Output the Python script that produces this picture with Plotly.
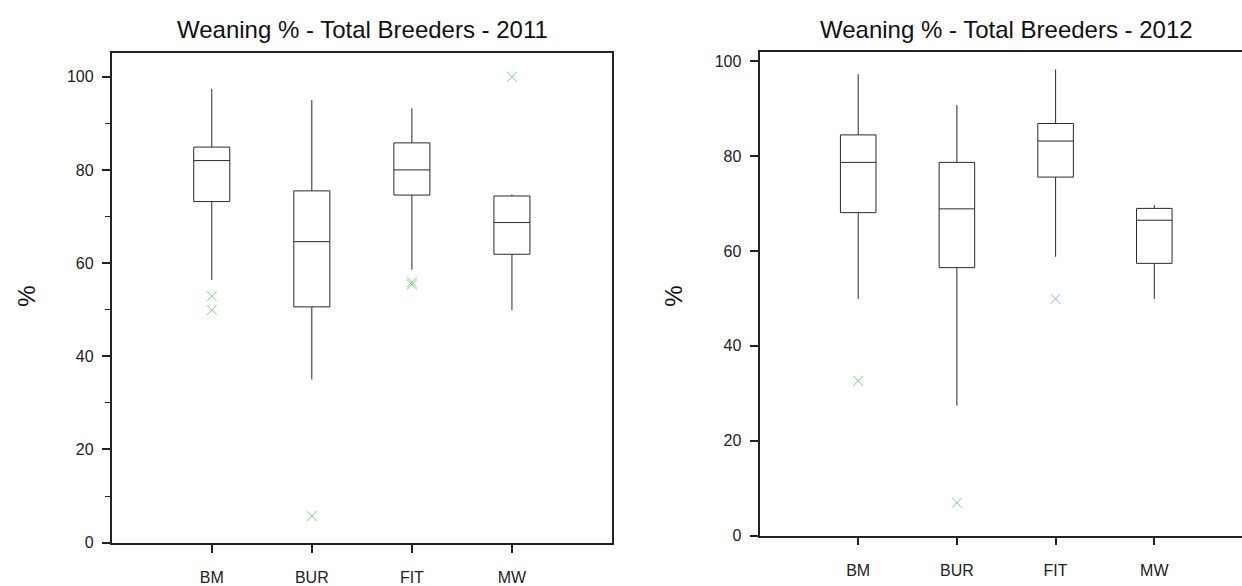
import plotly.graph_objects as go

W, H = 1242, 586

categories = ["BM", "BUR", "FIT", "MW"]
positions = [1, 2, 3, 4]

# 2011 box statistics
q1_2011 = [73.2, 50.6, 74.6, 61.9]
median_2011 = [82.0, 64.6, 80.0, 68.7]
q3_2011 = [84.9, 75.5, 85.8, 74.4]
lower_2011 = [56.4, 35.0, 58.6, 49.9]
upper_2011 = [97.4, 95.0, 93.2, 74.7]
outlier_cat_2011 = ["BM", "BM", "BUR", "FIT", "FIT", "MW"]
outlier_val_2011 = [52.9, 49.9, 5.7, 55.9, 55.4, 100.0]

# 2012 box statistics
q1_2012 = [68.1, 56.5, 75.6, 57.4]
median_2012 = [78.7, 68.9, 83.2, 66.5]
q3_2012 = [84.5, 78.7, 86.9, 69.0]
lower_2012 = [49.9, 27.4, 58.8, 49.9]
upper_2012 = [97.3, 90.8, 98.3, 69.7]
outlier_cat_2012 = ["BM", "BUR", "FIT"]
outlier_val_2012 = [32.6, 6.9, 49.9]

pos_of = dict(zip(categories, positions))

FONT = "Liberation Sans, Arial, sans-serif"
BOX_LINE = "#2a2a2a"
OUT_COLOR = "#7ccf7c"

fig = go.Figure()

for (q1, med, q3, lo, up, oc, ov, xa, ya) in [
    (q1_2011, median_2011, q3_2011, lower_2011, upper_2011, outlier_cat_2011, outlier_val_2011, "x", "y"),
    (q1_2012, median_2012, q3_2012, lower_2012, upper_2012, outlier_cat_2012, outlier_val_2012, "x2", "y2"),
]:
    fig.add_trace(go.Box(
        x=positions, q1=q1, median=med, q3=q3, lowerfence=lo, upperfence=up,
        orientation="v", boxpoints=False, width=0.36, whiskerwidth=0,
        fillcolor="white", line=dict(color=BOX_LINE, width=1),
        xaxis=xa, yaxis=ya, showlegend=False, hoverinfo="skip",
    ))
    fig.add_trace(go.Scatter(
        x=[pos_of[c] for c in oc], y=ov, mode="markers",
        marker=dict(symbol="x-thin-open", size=10, color=OUT_COLOR,
                    line=dict(color=OUT_COLOR, width=1)),
        xaxis=xa, yaxis=ya, showlegend=False, hoverinfo="skip",
    ))

def px_x(p):
    return p / W

def px_y(p):
    return 1 - p / H

axis_font = dict(family=FONT, size=16, color="#222222")

common_x = dict(
    tickmode="array", tickvals=positions, ticktext=categories,
    ticks="outside", ticklen=8, tickwidth=1.5, tickcolor="#222",
    showline=True, linecolor="#222", linewidth=1.8,
    showgrid=False, zeroline=False, tickfont=axis_font,
    ticklabelstandoff=11, fixedrange=True,
)
common_y = dict(
    tickmode="array", tickvals=[0, 20, 40, 60, 80, 100],
    ticks="outside", ticklen=8, tickwidth=1.5, tickcolor="#222",
    showline=True, linecolor="#222", linewidth=1.8,
    showgrid=False, zeroline=False, tickfont=axis_font,
    ticklabelstandoff=5, fixedrange=True,
)

title_font = dict(family=FONT, size=24, color="#111")

fig.update_layout(
    width=W, height=H,
    margin=dict(l=0, r=0, t=0, b=0),
    paper_bgcolor="white", plot_bgcolor="white",
    xaxis=dict(common_x, domain=[px_x(111.7), px_x(612)], range=[0, 5],
               anchor="y", mirror=True),
    yaxis=dict(common_y, domain=[px_y(554), px_y(54.3)], range=[0, 105.05],
               anchor="x", mirror=True,
               minor=dict(tickvals=[10, 30, 50, 70, 90], ticks="outside",
                          ticklen=5, tickwidth=1.2, tickcolor="#222")),
    xaxis2=dict(common_x, domain=[px_x(759.5), 1.0], range=[0, (W - 759.5) / 98.7],
                anchor="y2", mirror=True),
    yaxis2=dict(common_y, domain=[px_y(546.7), px_y(53.5)], range=[0, 101.9],
                anchor="x2", mirror=False),
    annotations=[
        dict(text="Weaning % - Total Breeders - 2011", xref="paper", yref="paper",
             x=px_x(362), y=px_y(30), xanchor="center", yanchor="middle",
             showarrow=False, font=title_font),
        dict(text="Weaning % - Total Breeders - 2012", xref="paper", yref="paper",
             x=px_x(1006), y=px_y(30), xanchor="center", yanchor="middle",
             showarrow=False, font=title_font),
        dict(text="%", xref="paper", yref="paper", textangle=-90,
             x=px_x(27), y=px_y(303), xanchor="center", yanchor="middle",
             showarrow=False, font=title_font),
        dict(text="%", xref="paper", yref="paper", textangle=-90,
             x=px_x(674), y=px_y(303), xanchor="center", yanchor="middle",
             showarrow=False, font=title_font),
    ],
)

fig.write_html("out.html")
